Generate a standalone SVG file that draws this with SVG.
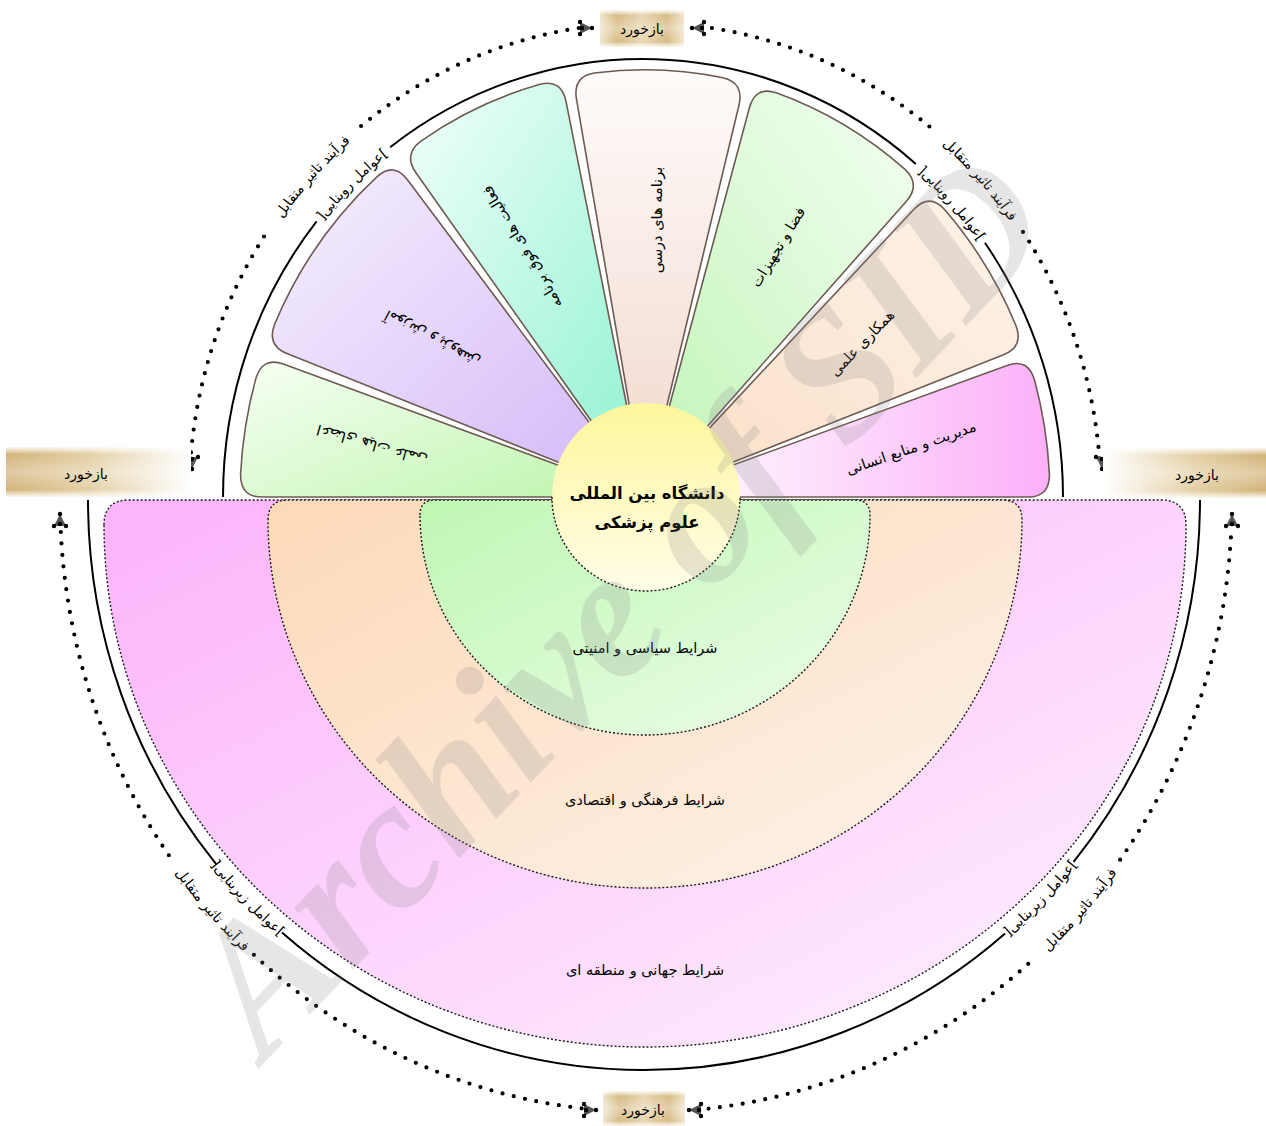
<svg xmlns="http://www.w3.org/2000/svg" xmlns:xlink="http://www.w3.org/1999/xlink" width="1266" height="1126" viewBox="0 0 1266 1126">
<style>
.petal{stroke:#6d5b52;stroke-width:1.6;vector-effect:non-scaling-stroke}
.half{stroke:#1a1a1a;stroke-width:1.4;stroke-dasharray:2 2}
.blk{fill:none;stroke:#000;stroke-width:2}
.dots{fill:none;stroke:#000;stroke-width:4.2;stroke-linecap:round;stroke-dasharray:0 11.5}
.ar{font-family:'DejaVu Sans',sans-serif;font-size:14px;fill:#000}
.pt{font-family:'DejaVu Sans',sans-serif;font-size:14.5px;fill:#000;text-anchor:middle}
.ctr{font-family:'DejaVu Sans',sans-serif;font-size:16.5px;font-weight:bold;fill:#000;text-anchor:middle}
</style>
<defs>
<linearGradient id="gPink" x1="0" y1="0" x2="1" y2="1"><stop offset="0" stop-color="#fcb3fb"/><stop offset="1" stop-color="#fef3fe"/></linearGradient>
<linearGradient id="gOrange" x1="0" y1="0" x2="1" y2="1"><stop offset="0" stop-color="#fdd9b8"/><stop offset="1" stop-color="#fdf3ea"/></linearGradient>
<linearGradient id="gGreen" x1="0" y1="0" x2="1" y2="1"><stop offset="0" stop-color="#bff7b3"/><stop offset="1" stop-color="#ecfde9"/></linearGradient>
<linearGradient id="p1" x1="0" y1="0" x2="1" y2="1"><stop offset="0" stop-color="#f7fff4"/><stop offset="1" stop-color="#c2f6b2"/></linearGradient>
<linearGradient id="p2" x1="0" y1="0" x2="1" y2="1"><stop offset="0" stop-color="#f6f1fe"/><stop offset="1" stop-color="#d6bcf8"/></linearGradient>
<linearGradient id="p3" x1="0" y1="0" x2="1" y2="1"><stop offset="0" stop-color="#f1fffb"/><stop offset="1" stop-color="#99f3d5"/></linearGradient>
<linearGradient id="p4" x1="0" y1="0" x2="0" y2="1"><stop offset="0" stop-color="#fefbfa"/><stop offset="1" stop-color="#f4ded5"/></linearGradient>
<linearGradient id="p5" x1="1" y1="0" x2="0" y2="1"><stop offset="0" stop-color="#f4fff3"/><stop offset="1" stop-color="#c6f5bd"/></linearGradient>
<linearGradient id="p6" x1="1" y1="0" x2="0" y2="1"><stop offset="0" stop-color="#fdf3ea"/><stop offset="1" stop-color="#fbe1ca"/></linearGradient>
<linearGradient id="p7" x1="0" y1="0.5" x2="1" y2="0.5"><stop offset="0" stop-color="#fdf1fd"/><stop offset="1" stop-color="#fcb0f9"/></linearGradient>
<linearGradient id="gYel" x1="0" y1="0" x2="0" y2="1"><stop offset="0" stop-color="#fdf69c"/><stop offset="1" stop-color="#fffde8"/></linearGradient>
<linearGradient id="bxL" x1="0" y1="0" x2="1" y2="0"><stop offset="0" stop-color="#d2b47a"/><stop offset="0.45" stop-color="#e4d0a6"/><stop offset="0.78" stop-color="#f4ecdb"/><stop offset="1" stop-color="#ffffff"/></linearGradient>
<linearGradient id="bxR" x1="1" y1="0" x2="0" y2="0"><stop offset="0" stop-color="#d2b47a"/><stop offset="0.45" stop-color="#e4d0a6"/><stop offset="0.78" stop-color="#f4ecdb"/><stop offset="1" stop-color="#ffffff"/></linearGradient>
<linearGradient id="bxC" x1="0" y1="0" x2="1" y2="0"><stop offset="0" stop-color="#f0e5cd"/><stop offset="0.2" stop-color="#d6bb84"/><stop offset="0.5" stop-color="#e8d7b3"/><stop offset="0.8" stop-color="#d6bb84"/><stop offset="1" stop-color="#f0e5cd"/></linearGradient>
<linearGradient id="bxV" x1="0" y1="0" x2="0" y2="1"><stop offset="0" stop-color="#fff" stop-opacity="0.9"/><stop offset="0.15" stop-color="#fff" stop-opacity="0"/><stop offset="0.5" stop-color="#fff" stop-opacity="0.3"/><stop offset="0.85" stop-color="#fff" stop-opacity="0"/><stop offset="1" stop-color="#fff" stop-opacity="0.9"/></linearGradient>
<g id="ah"><path d="M7 0 L-5 -6 L-5 6 Z" fill="#555"/><circle cx="7" cy="0" r="2.2"/><circle cx="-5" cy="-6" r="2.2"/><circle cx="-5" cy="6" r="2.2"/><circle cx="-3" cy="0" r="2.2"/></g>
<path id="tUL1" d="M 216.5 334.88 A 456 474 0 0 1 459.5 63.98"/>
<path id="tUL2" d="M 262.35 311.9 A 420 438 0 0 1 478.9 93.8"/>
<path id="tUR1" d="M 834.1 65.68 A 456 474 0 0 1 1074.8 338.8"/>
<path id="tUR2" d="M 830.4 105.0 A 420 438 0 0 1 1033.8 336.5"/>
<path id="tLL1" d="M 95.34 709.32 A 586 612 0 0 0 394.64 1052.84"/>
<path id="tLL2" d="M 132.2 722.7 A 556 570 0 0 0 417.9 1020.7"/>
<path id="tLR1" d="M 897.36 1052.84 A 586 612 0 0 0 1196.66 709.32"/>
<path id="tLR2" d="M 870.1 1020.7 A 556 570 0 0 0 1155.8 722.7"/>
</defs>

<g id="environment">
<g id="global"><path class="half" fill="url(#gPink)" d="M 104 525 Q 104 500 129 500 L 1161 500 Q 1186 500 1186 525 A 541 522 0 0 1 104 525 Z"/><text class="pt" x="645" y="975" direction="rtl">شرایط جهانی و منطقه ای</text></g>
<g id="cultural"><path class="half" fill="url(#gOrange)" d="M 268 520 Q 268 500 288 500 L 1002 500 Q 1022 500 1022 520 A 377 368 0 0 1 268 520 Z"/><text class="pt" x="645" y="805" direction="rtl">شرایط فرهنگی و اقتصادی</text></g>
<g id="political"><path class="half" fill="url(#gGreen)" d="M 420 515 Q 420 500 435 500 L 855 500 Q 870 500 870 515 A 225 220 0 0 1 420 515 Z"/><text class="pt" x="645" y="653" direction="rtl">شرایط سیاسی و امنیتی</text></g>
</g>

<g id="petals">
<g transform="translate(645 497) scale(1 1.055)">
<path id="petal-faculty" class="petal" fill="url(#p1)" d="M -86 0 L -383 0 Q -405 0 -404.40 -21.97 A 405 405 0 0 1 -389.14 -112.25 Q -382.47 -133.19 -361.70 -125.96 L -81.22 -28.28 A 86 86 0 0 0 -86 0 Z"/>
<path id="petal-research" class="petal" fill="url(#p2)" d="M -80.40 -30.54 L -358.04 -136.01 Q -378.61 -143.82 -370.25 -164.14 A 405 405 0 0 1 -267.88 -303.75 Q -251.01 -317.84 -237.38 -300.57 L -53.30 -67.49 A 86 86 0 0 0 -80.40 -30.54 Z"/>
<path id="petal-extra" class="petal" fill="url(#p3)" d="M -51.40 -68.95 L -228.89 -307.08 Q -242.04 -324.72 -224.07 -337.37 A 405 405 0 0 1 -104.89 -391.18 Q -83.51 -396.30 -78.97 -374.77 L -17.73 -84.15 A 86 86 0 0 0 -51.40 -68.95 Z"/>
<path id="petal-curriculum" class="petal" fill="url(#p4)" d="M -15.38 -84.61 L -68.48 -376.83 Q -72.41 -398.48 -50.69 -401.82 A 405 405 0 0 1 77.90 -397.44 Q 99.35 -392.63 93.95 -371.30 L 21.10 -83.37 A 86 86 0 0 0 -15.38 -84.61 Z"/>
<path id="petal-space" class="petal" fill="url(#p5)" d="M 23.42 -82.75 L 104.28 -368.53 Q 110.27 -389.70 131.25 -383.14 A 405 405 0 0 1 259.73 -310.74 Q 276.21 -296.20 261.21 -280.11 L 58.65 -62.90 A 86 86 0 0 0 23.42 -82.75 Z"/>
<path id="petal-coop" class="petal" fill="url(#p6)" d="M 60.38 -61.23 L 268.92 -272.71 Q 284.37 -288.37 299.60 -272.52 A 405 405 0 0 1 370.82 -162.86 Q 379.10 -142.50 358.51 -134.75 L 80.50 -30.26 A 86 86 0 0 0 60.38 -61.23 Z"/>
<path id="petal-management" class="petal" fill="url(#p7)" d="M 81.31 -28.00 L 362.13 -124.69 Q 382.94 -131.86 389.52 -110.88 A 405 405 0 0 1 404.40 -21.97 Q 405 0 383 0 L 86 0 A 86 86 0 0 0 81.31 -28.00 Z"/>
</g>
<text class="pt" direction="rtl" transform="translate(372 445) rotate(-164)" y="5">اعضای هیات علمی</text>
<text class="pt" direction="rtl" transform="translate(432 339) rotate(-152)" y="5">آموزش و پژوهش</text>
<text class="pt" direction="rtl" transform="translate(522 247) rotate(-121)" y="5">فعالیت های فوق برنامه</text>
<text class="pt" direction="rtl" transform="translate(657 220) rotate(-90)" y="5">برنامه های درسی</text>
<text class="pt" direction="rtl" transform="translate(778 247) rotate(-58.6)" y="5">فضا و تجهیزات</text>
<text class="pt" direction="rtl" transform="translate(862 343) rotate(-46)" y="5">همکاری علمی</text>
<text class="pt" direction="rtl" transform="translate(911 448) rotate(-19)" y="5">مدیریت و منابع انسانی</text>
</g>

<g id="center">
<circle cx="646" cy="497" r="94" fill="url(#gYel)"/>
<path class="half" fill="none" d="M 552 497 A 94 94 0 0 0 740 497"/>
<text class="ctr" x="647" y="499" direction="rtl">دانشگاه بین المللی</text>
<text class="ctr" x="647" y="528" direction="rtl">علوم پزشکی</text>
</g>

<g id="connectors">
<path class="blk" d="M 223 497 A 420 438 0 0 1 316.6 221.4"/>
<path class="blk" d="M 390.2 147.2 A 420 438 0 0 1 915.8 163.9"/>
<path class="blk" d="M 984.9 242.7 A 420 438 0 0 1 1063 497"/>
<path class="blk" d="M 88 500 A 556 570 0 0 0 216.2 864.1"/>
<path class="blk" d="M 282.0 932.6 A 556 570 0 0 0 1005.1 933.4"/>
<path class="blk" d="M 1073.6 861.8 A 556 570 0 0 0 1200 500"/>
<path class="dots" d="M 190.1 463.9 A 456 474 0 0 1 269.2 228.5"/>
<path class="dots" d="M 361.1 126.0 A 456 474 0 0 1 583.9 27.3"/>
<path class="dots" d="M 700.6 26.5 A 456 474 0 0 1 929.5 126.6"/>
<path class="dots" d="M 1023.0 231.9 A 456 474 0 0 1 1099.9 463.9"/>
<path class="dots" d="M 60.8 532.0 A 586 612 0 0 0 174.9 864.0"/>
<path class="dots" d="M 253.9 954.8 A 586 612 0 0 0 588.0 1109.0"/>
<path class="dots" d="M 697.1 1109.7 A 586 612 0 0 0 1032.8 959.7"/>
<path class="dots" d="M 1120.1 859.7 A 586 612 0 0 0 1231.2 532.0"/>
<use xlink:href="#ah" transform="translate(192 462) rotate(90)"/>
<use xlink:href="#ah" transform="translate(60 521) rotate(-90)"/>
<use xlink:href="#ah" transform="translate(1102 462) rotate(90)"/>
<use xlink:href="#ah" transform="translate(1232 521) rotate(-90)"/>
<use xlink:href="#ah" transform="translate(585 28) rotate(0)"/>
<use xlink:href="#ah" transform="translate(699 28) rotate(180)"/>
<use xlink:href="#ah" transform="translate(589 1110) rotate(0)"/>
<use xlink:href="#ah" transform="translate(696 1110) rotate(180)"/>
<text class="ar" direction="rtl" text-anchor="middle" dy="5"><textPath xlink:href="#tUL1" startOffset="50%">فرآیند تاثیر متقابل</textPath></text>
<text class="ar" direction="rtl" text-anchor="middle" dy="5"><textPath xlink:href="#tUL2" startOffset="50%">]عوامل روبنایی[</textPath></text>
<text class="ar" direction="rtl" text-anchor="middle" dy="5"><textPath xlink:href="#tUR1" startOffset="50%">فرآیند تاثیر متقابل</textPath></text>
<text class="ar" direction="rtl" text-anchor="middle" dy="5"><textPath xlink:href="#tUR2" startOffset="50%">]عوامل روبنایی[</textPath></text>
<text class="ar" direction="rtl" text-anchor="middle" dy="5"><textPath xlink:href="#tLL1" startOffset="50%">فرآیند تاثیر متقابل</textPath></text>
<text class="ar" direction="rtl" text-anchor="middle" dy="5"><textPath xlink:href="#tLL2" startOffset="50%">]عوامل زیربنایی[</textPath></text>
<text class="ar" direction="rtl" text-anchor="middle" dy="5"><textPath xlink:href="#tLR1" startOffset="50%">فرآیند تاثیر متقابل</textPath></text>
<text class="ar" direction="rtl" text-anchor="middle" dy="5"><textPath xlink:href="#tLR2" startOffset="50%">]عوامل زیربنایی[</textPath></text>
</g>

<g id="feedback-top"><rect x="600" y="10" width="84" height="37" fill="url(#bxC)"/><rect x="600" y="10" width="84" height="37" fill="url(#bxV)"/><text class="ar" x="642" y="34" text-anchor="middle" direction="rtl">بازخورد</text></g>
<g id="feedback-left"><rect x="6" y="447" width="185" height="50" fill="url(#bxL)"/><rect x="6" y="447" width="185" height="50" fill="url(#bxV)"/><text class="ar" x="86" y="479" text-anchor="middle" direction="rtl">بازخورد</text></g>
<g id="feedback-right"><rect x="1103" y="448" width="163" height="50" fill="url(#bxR)"/><rect x="1103" y="448" width="163" height="50" fill="url(#bxV)"/><text class="ar" x="1197" y="480" text-anchor="middle" direction="rtl">بازخورد</text></g>
<g id="feedback-bottom"><rect x="603" y="1091" width="82" height="35" fill="url(#bxC)"/><rect x="603" y="1091" width="82" height="35" fill="url(#bxV)"/><text class="ar" x="643" y="1115" text-anchor="middle" direction="rtl">بازخورد</text></g>

<text transform="translate(662 645) rotate(-46.4)" text-anchor="middle" font-family="'Liberation Serif',serif" font-weight="bold" font-style="italic" font-size="185" fill="#808080" fill-opacity="0.2">Archive of SID</text>
</svg>
